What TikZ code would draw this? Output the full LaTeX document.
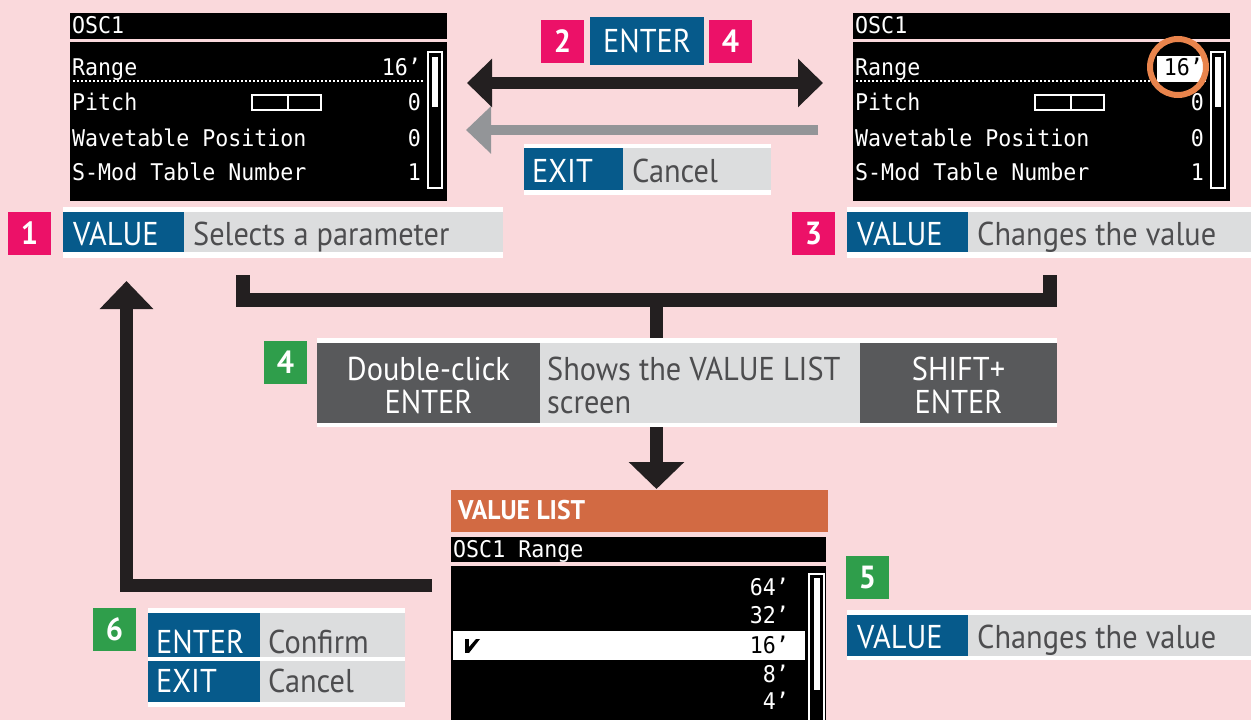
\documentclass[tikz,border=0pt]{standalone}
\usepackage{fontspec}
\usetikzlibrary{arrows.meta}
\newfontfamily\labfont[FakeStretch=0.92]{PT Sans}
\newfontfamily\labfontb[FakeStretch=0.95]{PT Sans Bold}
\newfontfamily\scrfont[FakeStretch=0.94]{DejaVu Sans Mono}
\definecolor{bgpink}{HTML}{FAD9DC}
\definecolor{mag}{HTML}{EC1168}
\definecolor{kblue}{HTML}{065A8B}
\definecolor{lgray}{HTML}{DCDDDE}
\definecolor{tgray}{HTML}{4D4D4F}
\definecolor{dgray}{HTML}{58595B}
\definecolor{grn}{HTML}{2F9E4B}
\definecolor{vorange}{HTML}{D26A43}
\definecolor{ring}{HTML}{E9844C}
\definecolor{agray}{HTML}{939598}
\definecolor{ablack}{HTML}{231F20}
\tikzset{
  lab/.style={font={\labfont\fontsize{33pt}{36pt}\selectfont}, inner sep=0pt, text=tgray},
  keylab/.style={lab, text=white},
  numbox/.style={font={\labfontb\fontsize{32pt}{34pt}\selectfont}, text=white, inner sep=0pt, minimum width=43pt, minimum height=43pt},
  scr/.style={font={\scrfont\fontsize{23pt}{25pt}\selectfont}, inner sep=0pt, text=white},
  bigarrow/.style={draw=ablack, line width=#1, miter limit=10},
}
\begin{document}
\begin{tikzpicture}[x=1pt,y=-1pt]
\fill[bgpink] (0,0) rectangle (1251,720);
\useasboundingbox (0,0) rectangle (1251,720);

% ---------- screens OSC1 (left and right) ----------
\foreach \dx/\nm in {0/L,783/R}{
\begin{scope}[shift={(\dx,0)}]
  \fill[black] (70,13) rectangle (447,39);
  \fill[black] (70,42) rectangle (447,201);
  \node[scr, anchor=base west] (title\nm) at (72,33) {OSC1};
  \node[scr, anchor=base west] (range\nm) at (72,75) {Range};
  \draw[white, line width=2pt, dash pattern=on 2pt off 2pt] (73,81) -- (423,81);
  \node[scr, anchor=base west] (pitch\nm) at (72,110) {Pitch};
  \draw[white, line width=2pt] (252,95) rectangle (321,110);
  \draw[white, line width=2pt] (288,95) -- (288,110);
  \node[scr, anchor=base east] (pitchv\nm) at (421,110) {0};
  \node[scr, anchor=base west] (wave\nm) at (72,146) {Wavetable Position};
  \node[scr, anchor=base east] (wavev\nm) at (421,146) {0};
  \node[scr, anchor=base west] (smod\nm) at (72,180) {S-Mod Table Number};
  \node[scr, anchor=base east] (smodv\nm) at (421,180) {1};
  \draw[white, line width=2pt] (428,52) rectangle (442,188);
  \fill[white] (432,57) rectangle (438,107);
\end{scope}
}
\node[scr, anchor=base east] (rangevL) at (421,75) {16’};
\fill[white] (1157,56) rectangle (1203,82);
\node[scr, anchor=base east, text=black] (rangevR) at (1203,75) {16’};
\draw[ring, line width=6pt] (1178,67) circle (28);

% ---------- top middle ----------
\node[numbox, fill=mag] (n2) at (562.5,41.5) {2};
\node[keylab, fill=kblue, minimum width=114pt, minimum height=48pt] (enter1) at (647,41) {ENTER};
\node[numbox, fill=mag] (n4a) at (730.5,41.5) {4};
\coordinate (dblL) at (467,83);
\coordinate (dblR) at (823,83);
\draw[bigarrow=12pt, {Triangle[width=47pt,length=25pt]}-{Triangle[width=47pt,length=25pt]}] (dblL) -- (dblR);
\coordinate (exA) at (818,130);
\coordinate (exB) at (466,130);
\draw[agray, line width=10pt, -{Triangle[width=46pt,length=25pt]}] (exA) -- (exB);
\fill[white] (524,144) rectangle (771,195);
\fill[kblue] (524,148) rectangle (623,190);
\fill[lgray] (623,148) rectangle (771,190);
\node[keylab, anchor=base west] (exit1) at (532,182) {EXIT};
\node[lab, anchor=base west] (cancel1) at (632,182) {Cancel};

% ---------- row 1 ----------
\node[numbox, fill=mag] (n1) at (29.5,233.5) {1};
\fill[white] (63,207) rectangle (503,258);
\fill[kblue] (63,212) rectangle (184,252);
\fill[lgray] (184,212) rectangle (503,252);
\node[keylab, anchor=base west] (val1) at (73,245) {VALUE};
\node[lab, anchor=base west] (sel1) at (193,245) {Selects a parameter};

% ---------- row 3 ----------
\node[numbox, fill=mag] (n3) at (813.5,233.5) {3};
\fill[white] (847,207) rectangle (1251,258);
\fill[kblue] (847,212) rectangle (968,252);
\fill[lgray] (968,212) rectangle (1251,252);
\node[keylab, anchor=base west] (val3) at (857,245) {VALUE};
\node[lab, anchor=base west] (chg3) at (977,245) {Changes the value};

% ---------- bracket ----------
\coordinate (brL) at (243,275);
\coordinate (brR) at (1050,275);
\coordinate (brM) at (656.5,300);
\coordinate (brS) at (656.5,342);
\draw[bigarrow=14pt] (brL) |- (brM) -| (brR);
\draw[bigarrow=13pt] (brM) -- (brS);

% ---------- row 4 ----------
\node[numbox, fill=grn] (n4b) at (285.5,362) {4};
\fill[white] (317,338) rectangle (1057,427);
\fill[dgray] (317,343) rectangle (540,423);
\fill[lgray] (540,343) rectangle (860,423);
\fill[dgray] (860,343) rectangle (1057,423);
\node[keylab, anchor=base] (dbl1) at (428.5,380) {Double-click};
\node[keylab, anchor=base] (dbl2) at (428.5,413) {ENTER};
\node[lab, anchor=base west] (show1) at (547,380) {Shows the VALUE LIST};
\node[lab, anchor=base west] (show2) at (547,413) {screen};
\node[keylab, anchor=base] (sh1) at (958.5,380) {SHIFT+};
\node[keylab, anchor=base] (sh2) at (958.5,413) {ENTER};

% ---------- down arrow ----------
\coordinate (dnA) at (656.5,427);
\coordinate (dnB) at (656.5,489);
\draw[bigarrow=13pt, -{Triangle[width=54pt,length=27pt]}] (dnA) -- (dnB);

% ---------- value list screen ----------
\fill[vorange] (451,490) rectangle (828,532);
\node[font={\labfontb\fontsize{27pt}{29pt}\selectfont}, text=white, inner sep=0pt, anchor=base west] (vlist) at (458,519) {VALUE LIST};
\fill[black] (451,537) rectangle (826,562);
\node[scr, anchor=base west] (osc1r) at (453,557) {OSC1 Range};
\fill[black] (451,566) rectangle (826,720);
\fill[white] (453,631) rectangle (805,660);
\node[scr, anchor=base east] (v64) at (789,595) {64’};
\node[scr, anchor=base east] (v32) at (789,623) {32’};
\node[scr, anchor=base east, text=black] (v16) at (789,653) {16’};
\node[scr, anchor=base east] (v8) at (789,682) {8’};
\node[scr, anchor=base east] (v4) at (789,709) {4’};
\fill[black] (465,639) rectangle (469,653);
\fill[black] (469,653) -- (469,647) -- (476,639) -- (480,639) -- cycle;
\begin{scope}
\clip (451,566) rectangle (826,720);
\draw[white, line width=2pt] (809,574) rectangle (824,730);
\fill[white] (814,578) rectangle (820,690);
\end{scope}

% ---------- loop back arrow ----------
\coordinate (lpA) at (432,585.5);
\coordinate (lpB) at (126.5,281);
\draw[bigarrow=13pt, -{Triangle[width=52pt,length=28pt]}] (lpA) -| (lpB);

% ---------- row 5 ----------
\node[numbox, fill=grn] (n5) at (867.5,577.5) {5};
\fill[white] (847,610) rectangle (1251,660);
\fill[kblue] (847,615) rectangle (968,656);
\fill[lgray] (968,615) rectangle (1251,656);
\node[keylab, anchor=base west] (val5) at (857,648) {VALUE};
\node[lab, anchor=base west] (chg5) at (977,648) {Changes the value};

% ---------- row 6 ----------
\node[numbox, fill=grn] (n6) at (114.5,629.5) {6};
\fill[white] (148,608) rectangle (405,707);
\fill[kblue] (148,613) rectangle (260,657);
\fill[lgray] (260,613) rectangle (405,657);
\fill[kblue] (148,661) rectangle (260,702);
\fill[lgray] (260,661) rectangle (405,702);
\node[keylab, anchor=base west] (ent6) at (156,653) {ENTER};
\node[lab, anchor=base west] (conf6) at (268,653) {Confirm};
\node[keylab, anchor=base west] (exit6) at (156,692) {EXIT};
\node[lab, anchor=base west] (canc6) at (268,692) {Cancel};
\end{tikzpicture}
\end{document}
